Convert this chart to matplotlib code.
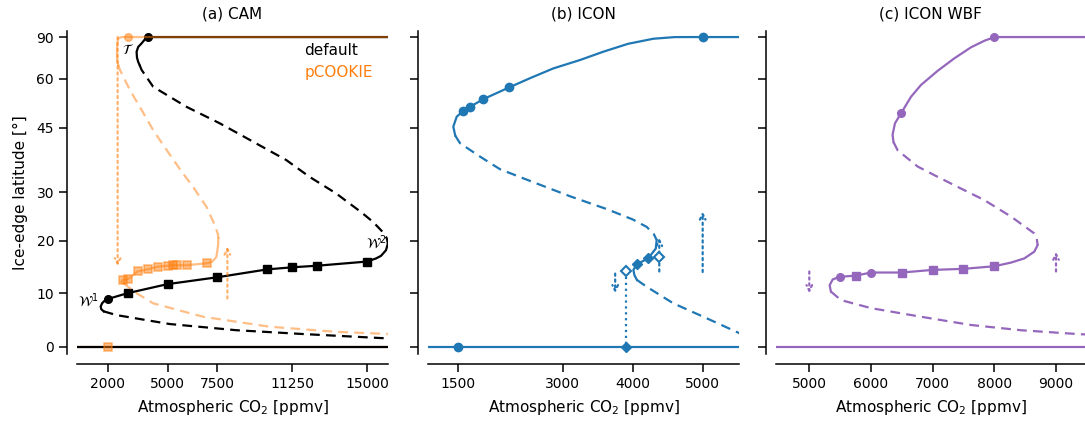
import numpy as np
import matplotlib
matplotlib.use("Agg")
import matplotlib.pyplot as plt

# ---------------- data (CO2 in ppmv, ice-edge latitude in degrees) ----------------
# (a) CAM default
cam_top_co2 = [3600, 3530, 3470, 3450, 3530, 3700, 3850, 4000, 17000]
cam_top_lat = [65.5, 66.9, 69.0, 72.3, 75.5, 78.4, 82.5, 90.0, 90.0]
cam_mid_co2 = [3600, 3700, 4280, 5950, 7615, 9280, 10950, 12115, 13450, 14700, 15300, 15780, 15980, 16040]
cam_mid_lat = [65.5, 63.4, 57.1, 50.8, 46.2, 41.5, 37.1, 33.3, 29.7, 25.8, 23.8, 21.8, 20.6, 19.8]
cam_wb_co2 = [16040, 16030, 15950, 15700, 15450, 15000, 12500, 11250, 10000, 7500, 5000, 3000,
              2000, 1850, 1720, 1650, 1680, 1800]
cam_wb_lat = [19.8, 19.3, 18.2, 17.1, 16.6, 16.0, 15.2, 14.9, 14.5, 13.0, 11.7, 10.0,
              8.9, 8.6, 8.1, 7.5, 7.0, 6.6]
cam_low_co2 = [1800, 2450, 5100, 8450, 11765, 15950, 17000]
cam_low_lat = [6.6, 5.9, 4.25, 3.1, 2.4, 1.6, 1.45]
cam_sq_co2 = [3000, 5000, 7500, 10000, 11250, 12500, 15000]
cam_sq_lat = [10.0, 11.7, 13.0, 14.5, 14.9, 15.2, 16.0]
cam_dot_co2 = [2000, 4000]
cam_dot_lat = [8.9, 90.0]

# (a) CAM pCOOKIE
ck_top_co2 = [2530, 2480, 2465, 2480, 2530, 2700, 3000, 17000]
ck_top_lat = [65.5, 67.0, 71.3, 78.4, 84.8, 89.5, 90.0, 90.0]
ck_mid_co2 = [2530, 2615, 2700, 3115, 3700, 4280, 4950, 5700, 6280, 6950, 7365, 7530, 7550]
ck_mid_lat = [65.5, 63.4, 62.0, 56.0, 49.9, 44.4, 39.5, 34.5, 31.1, 26.9, 23.2, 21.3, 20.5]
ck_wb_co2 = [7550, 7530, 7450, 7250, 7000, 6000, 5500, 5250, 5000, 4500, 4000, 3500, 3000, 2750, 2680, 2780]
ck_wb_lat = [20.5, 19.0, 16.9, 16.0, 15.7, 15.3, 15.3, 15.3, 15.2, 15.0, 14.5, 14.1, 12.6, 12.5, 12.1, 11.9]
ck_low_co2 = [2780, 3450, 4280, 6780, 10115, 13450, 16115, 17000]
ck_low_lat = [11.9, 10.0, 8.1, 5.6, 3.75, 2.8, 2.4, 2.3]
ck_sq_co2 = [2000, 2750, 3000, 3500, 4000, 4500, 5000, 5250, 5500, 6000, 7000]
ck_sq_lat = [0.0, 12.5, 12.6, 14.1, 14.5, 15.0, 15.2, 15.3, 15.3, 15.3, 15.7]
ck_dot_co2 = [3000]
ck_dot_lat = [90.0]

# (b) ICON
ic_top_co2 = [1465, 1437, 1486, 1580, 1676, 1866, 2237, 2547, 2866, 3247, 3580, 3933, 4294, 4600, 4800, 6000]
ic_top_lat = [43.0, 45.3, 48.0, 49.6, 50.8, 53.1, 56.9, 60.3, 64.0, 67.8, 72.3, 78.0, 84.0, 89.0, 90.0, 90.0]
ic_mid_co2 = [1465, 1533, 1819, 2104, 2533, 3104, 3633, 4000, 4200, 4300, 4343]
ic_mid_lat = [43.0, 41.1, 37.9, 35.0, 32.4, 29.1, 26.4, 24.3, 22.8, 21.4, 20.2]
ic_wb_co2 = [4343, 4330, 4220, 4060, 4010, 4025, 4060]
ic_wb_lat = [20.2, 18.5, 16.6, 15.5, 14.4, 13.4, 12.5]
ic_low_co2 = [4060, 4200, 4580, 5009, 5533, 6000]
ic_low_lat = [12.5, 11.2, 8.1, 5.6, 2.5, 1.8]
ic_dot_co2 = [1580, 1676, 1866, 2237, 5000, 1500]
ic_dot_lat = [49.6, 50.8, 53.1, 56.9, 90.0, 0.0]
ic_dia_co2 = [4060, 4220, 3900]
ic_dia_lat = [15.5, 16.6, 0.0]
ic_open_co2 = [3900, 4380]
ic_open_lat = [14.1, 16.9]

# (c) ICON WBF
wbf_top_co2 = [6365, 6350, 6389, 6486, 6648, 6810, 7081, 7350, 7621, 7837, 7945, 8000, 10000]
wbf_top_lat = [41.4, 43.2, 46.2, 48.9, 53.8, 57.7, 63.0, 68.6, 75.2, 81.1, 84.7, 90.0, 90.0]
wbf_mid_co2 = [6365, 6432, 6757, 7081, 7405, 7836, 8269, 8647, 8684, 8702]
wbf_mid_lat = [41.4, 39.4, 35.6, 33.3, 31.1, 28.3, 24.9, 21.5, 20.8, 19.2]
wbf_wb_co2 = [8702, 8647, 8485, 8270, 8000, 7500, 7000, 6500, 6000, 5750, 5500, 5380, 5330, 5350]
wbf_wb_lat = [19.2, 17.9, 16.6, 15.8, 15.1, 14.6, 14.4, 13.9, 13.9, 13.3, 13.1, 12.6, 11.5, 10.3]
wbf_low_co2 = [5350, 5514, 6000, 6810, 7620, 8430, 9400, 10000]
wbf_low_lat = [10.3, 8.7, 7.2, 5.6, 4.07, 3.1, 2.35, 2.2]
wbf_sq_co2 = [5750, 6500, 7000, 7500, 8000]
wbf_sq_lat = [13.3, 13.9, 14.4, 14.6, 15.1]
wbf_dot_co2 = [5500, 6000, 6486, 8000]
wbf_dot_lat = [13.1, 13.9, 48.9, 90.0]

# dotted jump arrows: (co2, start lat, end lat)
cam_arrows = [(2500, 90.0, 15.1), (8000, 9.0, 18.9)]
ic_arrows = [(3750, 13.7, 10.0), (4380, 14.1, 20.6), (5000, 14.0, 25.9)]
ic_drop = (3900, 14.1, 0.0)
wbf_arrows = [(5000, 14.1, 10.0), (9000, 14.1, 17.9)]

yticks = [0, 10, 20, 30, 45, 60, 90]


def fwd(lat):
    lat = np.asarray(lat, dtype=float)
    return np.where(lat <= 90, np.sin(np.radians(np.clip(lat, -90, 90))), 1 + np.radians(lat - 90))


def inv(s):
    s = np.asarray(s, dtype=float)
    return np.where(s <= 1, np.degrees(np.arcsin(np.clip(s, -1, 1))), 90 + np.degrees(s - 1))


fig = plt.figure(figsize=(10.85, 4.26), dpi=100)
bottom, height = 0.1695, 0.7566
axa = fig.add_axes([0.0710, bottom, 0.2866, height])
axb = fig.add_axes([0.3945, bottom, 0.2866, height])
axc = fig.add_axes([0.7152, bottom, 0.2848, height])

lw = 1.6
dash = (0, (4.4, 2.8))
orange = "tab:orange"


def arrow(ax, x, y0, y1, color, alpha=1.0):
    ax.annotate("", xy=(x, y1), xytext=(x, y0),
                arrowprops=dict(arrowstyle="->", linestyle=":", color=color, lw=lw,
                                alpha=alpha, shrinkA=0, shrinkB=0, mutation_scale=10))


def branches(ax, color, top, mid, wb, low, alpha=1.0, z=2):
    ax.plot(*top, ls="-", color=color, lw=lw, alpha=alpha, zorder=z)
    ax.plot(*mid, ls=dash, color=color, lw=lw, alpha=alpha, zorder=z)
    ax.plot(*wb, ls="-", color=color, lw=lw, alpha=alpha, zorder=z)
    ax.plot(*low, ls=dash, color=color, lw=lw, alpha=alpha, zorder=z)


# (a) CAM
ax = axa
ax.axhline(0, color=orange, alpha=0.5, lw=lw, zorder=1)
ax.axhline(0, color="k", lw=lw, zorder=2)
branches(ax, "k", (cam_top_co2, cam_top_lat), (cam_mid_co2, cam_mid_lat),
         (cam_wb_co2, cam_wb_lat), (cam_low_co2, cam_low_lat))
ax.plot(cam_sq_co2, cam_sq_lat, "ks", ms=5.5, lw=0)
ax.plot(cam_dot_co2, cam_dot_lat, "ko", ms=5.5, lw=0)
branches(ax, orange, (ck_top_co2, ck_top_lat), (ck_mid_co2, ck_mid_lat),
         (ck_wb_co2, ck_wb_lat), (ck_low_co2, ck_low_lat), alpha=0.5, z=3)
ax.plot(ck_sq_co2, ck_sq_lat, "s", color=orange, alpha=0.5, ms=5.5, mew=1.2, lw=0, zorder=3)
ax.plot(ck_dot_co2, ck_dot_lat, "o", color=orange, alpha=0.5, ms=5.5, lw=0, zorder=3)
for x, y0, y1 in cam_arrows:
    arrow(ax, x, y0, y1, orange, 0.6)
ax.text(1050, 8.5, r"$\mathcal{W}^1$", fontsize=10, ha="center", va="center")
ax.text(15450, 19.6, r"$\mathcal{W}^2$", fontsize=10, ha="center", va="center")
ax.text(3020, 73.5, r"$\mathcal{T}$", fontsize=10, ha="center", va="center")
ax.text(11865, 73.3, "default", fontsize=11, color="k", va="center")
ax.text(11865, 62.5, "pCOOKIE", fontsize=11, color=orange, va="center")
ax.set_xlim(465, 16050)
ax.set_xticks([2000, 5000, 7500, 11250, 15000])
ax.set_title("(a) CAM", fontsize=11, pad=9)

# (b) ICON
ax = axb
blue = "tab:blue"
ax.axhline(0, color=blue, lw=lw)
branches(ax, blue, (ic_top_co2, ic_top_lat), (ic_mid_co2, ic_mid_lat),
         (ic_wb_co2, ic_wb_lat), (ic_low_co2, ic_low_lat))
ax.plot(ic_dot_co2, ic_dot_lat, "o", color=blue, ms=6, lw=0)
ax.plot(ic_dia_co2, ic_dia_lat, "D", color=blue, ms=5.5, lw=0)
ax.plot(ic_open_co2, ic_open_lat, "D", color=blue, mfc="white", mew=1.5, ms=5.5, lw=0, zorder=4)
for x, y0, y1 in ic_arrows:
    arrow(ax, x, y0, y1, blue)
ax.plot([ic_drop[0], ic_drop[0]], [ic_drop[1], ic_drop[2]], ":", color=blue, lw=lw)
ax.set_xlim(1076, 5519)
ax.set_xticks([1500, 3000, 4000, 5000])
ax.set_title("(b) ICON", fontsize=11, pad=9)

# (c) ICON WBF
ax = axc
purple = "tab:purple"
ax.axhline(0, color=purple, lw=lw)
branches(ax, purple, (wbf_top_co2, wbf_top_lat), (wbf_mid_co2, wbf_mid_lat),
         (wbf_wb_co2, wbf_wb_lat), (wbf_low_co2, wbf_low_lat))
ax.plot(wbf_sq_co2, wbf_sq_lat, "s", color=purple, ms=5.5, lw=0)
ax.plot(wbf_dot_co2, wbf_dot_lat, "o", color=purple, ms=5.5, lw=0)
for x, y0, y1 in wbf_arrows:
    arrow(ax, x, y0, y1, purple)
ax.set_xlim(4460, 9470)
ax.set_xticks([5000, 6000, 7000, 8000, 9000])
ax.set_title("(c) ICON WBF", fontsize=11, pad=9)

for i, ax in enumerate([axa, axb, axc]):
    ax.set_yscale("function", functions=(fwd, inv))
    ax.set_ylim(-1.26, 91.03)
    ax.set_yticks(yticks)
    ax.minorticks_off()
    if i == 0:
        ax.set_yticklabels([str(t) for t in yticks])
        ax.set_ylabel("Ice-edge latitude [°]", fontsize=11, labelpad=6)
    else:
        ax.set_yticklabels([])
    ax.set_xlabel("Atmospheric CO$_2$ [ppmv]", fontsize=11, labelpad=5)
    ax.tick_params(labelsize=10, length=6, width=1.1)
    for s in ["top", "right"]:
        ax.spines[s].set_visible(False)
    for s in ["left", "bottom"]:
        ax.spines[s].set_position(("outward", 7))
        ax.spines[s].set_linewidth(1.1)

fig.savefig("out.png", dpi=100)
